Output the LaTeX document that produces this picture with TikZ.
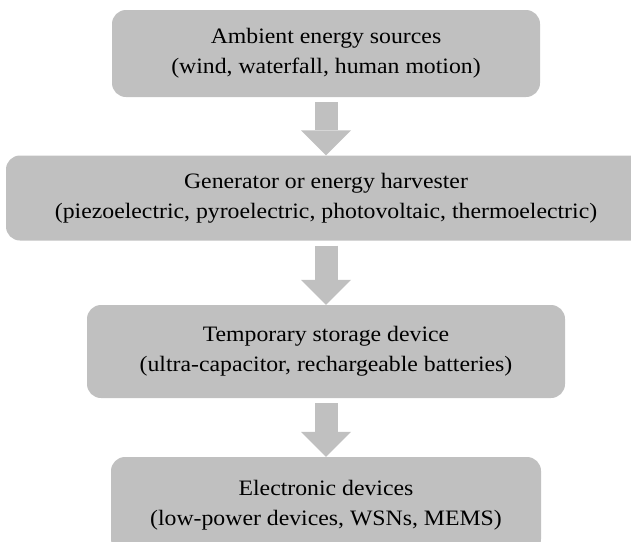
\documentclass[tikz,border=0pt]{standalone}
\usepackage{fontspec}
\setmainfont[FakeStretch=1.08]{Liberation Serif}
\usepackage{tikz}
\usetikzlibrary{arrows.meta}
\definecolor{boxgray}{RGB}{192,192,192}

\begin{document}
\begin{tikzpicture}[x=1pt,y=1pt]
            \useasboundingbox (0,0) rectangle (631,-541);
            \clip (0,0) rectangle (631,-541);

            \begin{scope}[every node/.style={rectangle,rounded corners=14pt,fill=boxgray,inner sep=0pt,align=center,font=\fontsize{22}{30}\selectfont}]
                \node[minimum width=428pt,minimum height=87pt] (src) at (326,-53.5) {Ambient energy sources\\(wind, waterfall, human motion)};
                \node[minimum width=640pt,minimum height=85pt] (gen) at (326,-198) {Generator or energy harvester\\(piezoelectric, pyroelectric, photovoltaic, thermoelectric)};
                \node[minimum width=478pt,minimum height=93pt] (store) at (326,-351.5) {Temporary storage device\\(ultra-capacitor, rechargeable batteries)};
                \node[minimum width=430pt,minimum height=96pt] (dev) at (326,-505) {Electronic devices\\(low-power devices, WSNs, MEMS)};
            \end{scope}

            \begin{scope}[draw=boxgray,line width=23pt,-{Triangle[length=25pt,width=50pt,line width=0pt]},shorten <=5pt]
                \path (src) edge (gen);
                \path (gen) edge (store);
                \path (store) edge (dev);
            \end{scope}
            \end{tikzpicture}
\end{document}
